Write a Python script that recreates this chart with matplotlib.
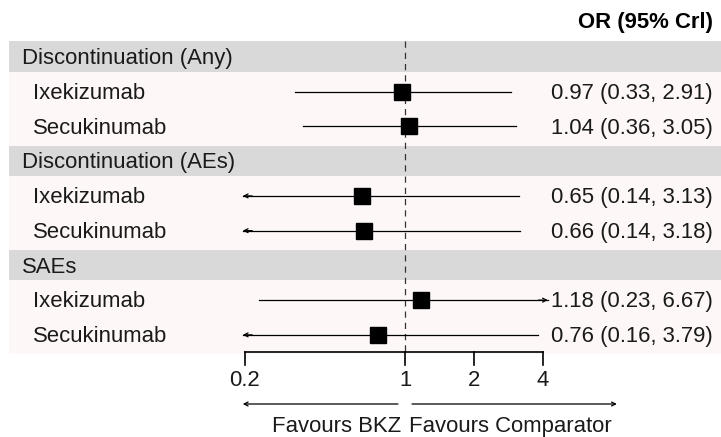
import numpy as np
import matplotlib.pyplot as plt

plt.rcParams['font.family'] = ['Liberation Sans', 'DejaVu Sans']

groups = ['Discontinuation (Any)', 'Discontinuation (AEs)', 'SAEs']
treatments = ['Ixekizumab', 'Secukinumab']
est = [[0.97, 1.04], [0.65, 0.66], [1.18, 0.76]]
lower = [[0.33, 0.36], [0.14, 0.14], [0.23, 0.16]]
upper = [[2.91, 3.05], [3.13, 3.18], [6.67, 3.79]]
ticks = [0.2, 1, 2, 4]
tick_labels = ['0.2', '1', '2', '4']

xmin, xmax = 0.2, 4
lo_clip, hi_clip = 0.196, 4.2
fs = 15.9
tcol = '#1a1a1a'

fig = plt.figure(figsize=(7.21, 4.37), dpi=100)
ax = fig.add_axes([0, 0, 1, 1])
ax.set_xscale('log', base=2)
ax.set_xlim(2 ** (-405 / 69), 2 ** (316 / 69))
ax.set_ylim(10.94, -1.64)
ax.axis('off')

left_frac = 9 / 721
x_grp = 2 ** ((22 - 405) / 69)
x_sub = 2 ** ((33 - 405) / 69)
x_val = 2 ** ((713 - 405) / 69)
dy = 0.05  # small text nudge

arrow_kw = dict(arrowstyle='->', lw=0.9, color='black',
                mutation_scale=7, shrinkA=0, shrinkB=0)

row = 0
for g, name in enumerate(groups):
    ax.axhspan(row - 0.45, row + 0.43, xmin=left_frac, color='#d9d9d9', lw=0)
    ax.text(x_grp, row + dy, name, fontsize=fs, va='center', ha='left', color=tcol)
    ax.axhspan(row + 0.43, row + 2.55, xmin=left_frac, color='#fdf8f7', lw=0)
    for t, tname in enumerate(treatments):
        y = row + 1 + t
        e, lo, hi = est[g][t], lower[g][t], upper[g][t]
        ax.text(x_sub, y + dy, tname, fontsize=fs, va='center', ha='left', color=tcol)
        a, b = max(lo, lo_clip), min(hi, hi_clip)
        ax.plot([a, b], [y, y], color='black', lw=0.9, zorder=3)
        if lo < xmin:
            ax.annotate('', xy=(lo_clip, y), xytext=(lo_clip * 1.1, y),
                        arrowprops=arrow_kw, zorder=3)
        if hi > xmax:
            ax.annotate('', xy=(hi_clip, y), xytext=(hi_clip / 1.1, y),
                        arrowprops=arrow_kw, zorder=3)
        ax.plot(e, y, marker='s', ms=11.5, color='black', zorder=4)
        ax.text(x_val, y + dy, f'{e:.2f} ({lo:.2f}, {hi:.2f})', fontsize=fs,
                va='center', ha='right', color=tcol)
    row += 3

ax.text(x_val, -1.0, 'OR (95% Crl)', fontsize=fs, fontweight='bold',
        va='center', ha='right', color='black')

# reference line
y_axis = 8.49
ax.plot([1, 1], [-0.45, y_axis], color='#333333', lw=0.9, ls=(0, (5, 4)), zorder=2)

# x axis
ax.plot([xmin, xmax], [y_axis, y_axis], color='black', lw=1.2)
for tk, tl in zip(ticks, tick_labels):
    ax.plot([tk, tk], [y_axis, 8.86], color='black', lw=1.2)
    ax.text(tk, 9.32, tl, fontsize=fs, ha='center', va='center', color=tcol)

# favours arrows
y_arr = 9.99
ax.annotate('', xy=(lo_clip, y_arr), xytext=(0.932, y_arr), arrowprops=arrow_kw)
ax.annotate('', xy=(8.4, y_arr), xytext=(1.073, y_arr), arrowprops=arrow_kw)
ax.text(0.96, 10.63, 'Favours BKZ', fontsize=fs, ha='right', va='center', color=tcol)
ax.text(1.04, 10.63, 'Favours Comparator', fontsize=fs, ha='left', va='center', color=tcol)

fig.savefig('out.png', dpi=100, facecolor='white')
